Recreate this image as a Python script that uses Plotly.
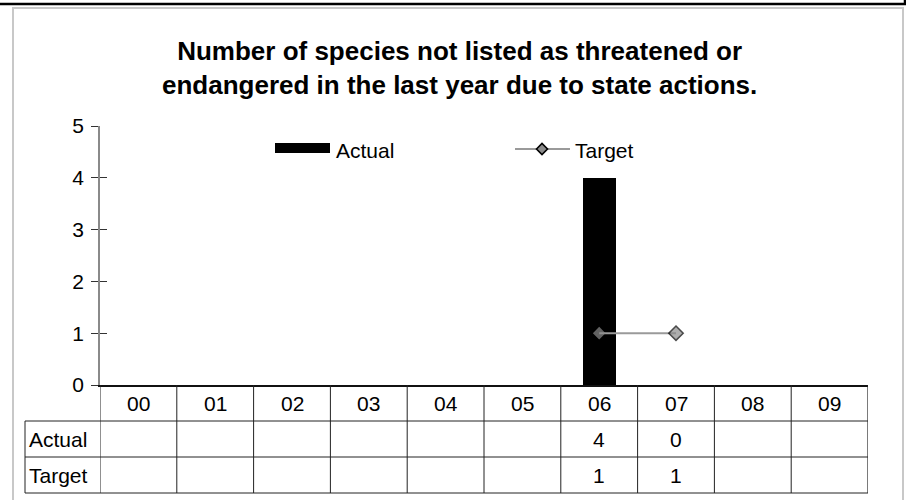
import plotly.graph_objects as go

# ---- data ----
categories = ["00", "01", "02", "03", "04", "05", "06", "07", "08", "09"]
actual = [None, None, None, None, None, None, 4, 0, None, None]
target = [None, None, None, None, None, None, 1, 1, None, None]
row_labels = ["Actual", "Target"]
y_ticks = [0, 1, 2, 3, 4, 5]
title_lines = ["Number of species not listed as threatened or",
               "endangered in the last year due to state actions."]

FONT = "Liberation Sans, Arial, sans-serif"
FS = 21
W, H = 906, 500
L, R, T, B = 100, 38, 126, 115
PW, PH = W - L - R, H - T - B


def px(x):
    return (x - L) / PW


def py(y):
    return (H - B - y) / PH


fig = go.Figure()

fig.add_trace(go.Bar(
    x=categories, y=actual, name="Actual",
    marker=dict(color="black", line=dict(width=0)),
    width=0.43, showlegend=False,
))

fig.add_trace(go.Scatter(
    x=categories, y=target, name="Target", yaxis="y2",
    mode="lines+markers",
    line=dict(color="#9a9a9a", width=2),
    marker=dict(symbol="diamond", color="#8c8c8c",
                size=[9, 9, 9, 9, 9, 9, 8, 11, 9, 9],
                line=dict(color=["black"] * 6 + ["#8c8c8c", "black"] + ["black"] * 2,
                          width=1.6)),
    connectgaps=False, showlegend=False,
))

shapes = []
annotations = []


def text_ann(x, y, text, xref="paper", xanchor="center", size=FS):
    return dict(x=x, xref=xref, xanchor=xanchor, y=y, yref="paper", yanchor="middle",
                text=text, showarrow=False,
                font=dict(size=size, color="black", family=FONT))


# outer frame
shapes.append(dict(type="rect", xref="paper", yref="paper",
                   x0=px(13), x1=px(903), y0=py(520), y1=py(8),
                   line=dict(color="#c8c8c8", width=2), layer="below"))
shapes.append(dict(type="path", xref="paper", yref="paper",
                   path=f"M {px(0)},{py(4)} L {px(905)},{py(4)} L {px(905)},{py(-2)}",
                   line=dict(color="black", width=2.5)))

# data table lines
row_y = [421, 457, 493]
for y in row_y:
    shapes.append(dict(type="line", xref="paper", yref="paper",
                       x0=px(25), x1=1, y0=py(y), y1=py(y),
                       line=dict(color="#222", width=1)))
for i in range(len(categories) + 1):
    shapes.append(dict(type="line", xref="x", yref="paper",
                       x0=i - 0.5, x1=i - 0.5, y0=py(385), y1=py(493),
                       line=dict(color="#222", width=1.2 if i == len(categories) else 1)))
shapes.append(dict(type="line", xref="paper", yref="paper",
                   x0=px(25), x1=px(25), y0=py(421), y1=py(493),
                   line=dict(color="#222", width=1)))

# table text
for c in categories:
    annotations.append(text_ann(c, py(403), c, xref="x"))
for lab, vals, yc in zip(row_labels, [actual, target], [439, 475]):
    annotations.append(text_ann(px(27), py(yc), lab, xanchor="left"))
    for c, v in zip(categories, vals):
        if v is not None:
            annotations.append(text_ann(c, py(yc), str(v), xref="x"))

# legend (custom)
shapes.append(dict(type="rect", xref="paper", yref="paper",
                   x0=px(275), x1=px(330), y0=py(153), y1=py(143),
                   fillcolor="black", line=dict(width=0)))
annotations.append(text_ann(px(334), py(150), "Actual", xanchor="left"))
shapes.append(dict(type="line", xref="paper", yref="paper",
                   x0=px(515), x1=px(570), y0=py(149), y1=py(149),
                   line=dict(color="#9a9a9a", width=2)))
d = 5.5
shapes.append(dict(type="path", xref="paper", yref="paper",
                   path=(f"M {px(542 - d)},{py(149)} L {px(542)},{py(149 - d)} "
                         f"L {px(542 + d)},{py(149)} L {px(542)},{py(149 + d)} Z"),
                   fillcolor="#8c8c8c", line=dict(color="black", width=1.6)))
annotations.append(text_ann(px(573), py(150), "Target", xanchor="left"))

# title
annotations.append(text_ann(px(459), py(68), "<b>" + "<br>".join(title_lines) + "</b>",
                            size=26))

fig.update_layout(
    width=W, height=H,
    margin=dict(l=L, r=R, t=T, b=B, pad=0),
    paper_bgcolor="white", plot_bgcolor="white",
    font=dict(family=FONT, color="black", size=FS),
    bargap=0,
    xaxis=dict(type="category", categoryorder="array", categoryarray=categories,
               range=[-0.5, len(categories) - 0.5],
               showticklabels=False, ticks="", showgrid=False, zeroline=False,
               showline=True, linecolor="#111", linewidth=1.5, fixedrange=True),
    yaxis=dict(range=[0, 5], tickvals=y_ticks, ticks="outside", ticklen=7,
               tickcolor="#333", tickwidth=1, showgrid=False, zeroline=False,
               showline=True, linecolor="#8a8a8a", linewidth=1.5,
               tickfont=dict(size=FS, color="black", family=FONT),
               ticklabelstandoff=3, fixedrange=True),
    yaxis2=dict(range=[0, 5], tickvals=y_ticks, overlaying="y", side="left",
                ticks="inside", ticklen=7, tickcolor="#333", tickwidth=1,
                showticklabels=False, showgrid=False, zeroline=False,
                showline=False, fixedrange=True),
    shapes=shapes,
    annotations=annotations,
)

fig.write_html("out.html", config={"displayModeBar": False},
               post_script="document.body.style.margin='0';document.body.style.padding='0';document.body.style.overflow='hidden';")
